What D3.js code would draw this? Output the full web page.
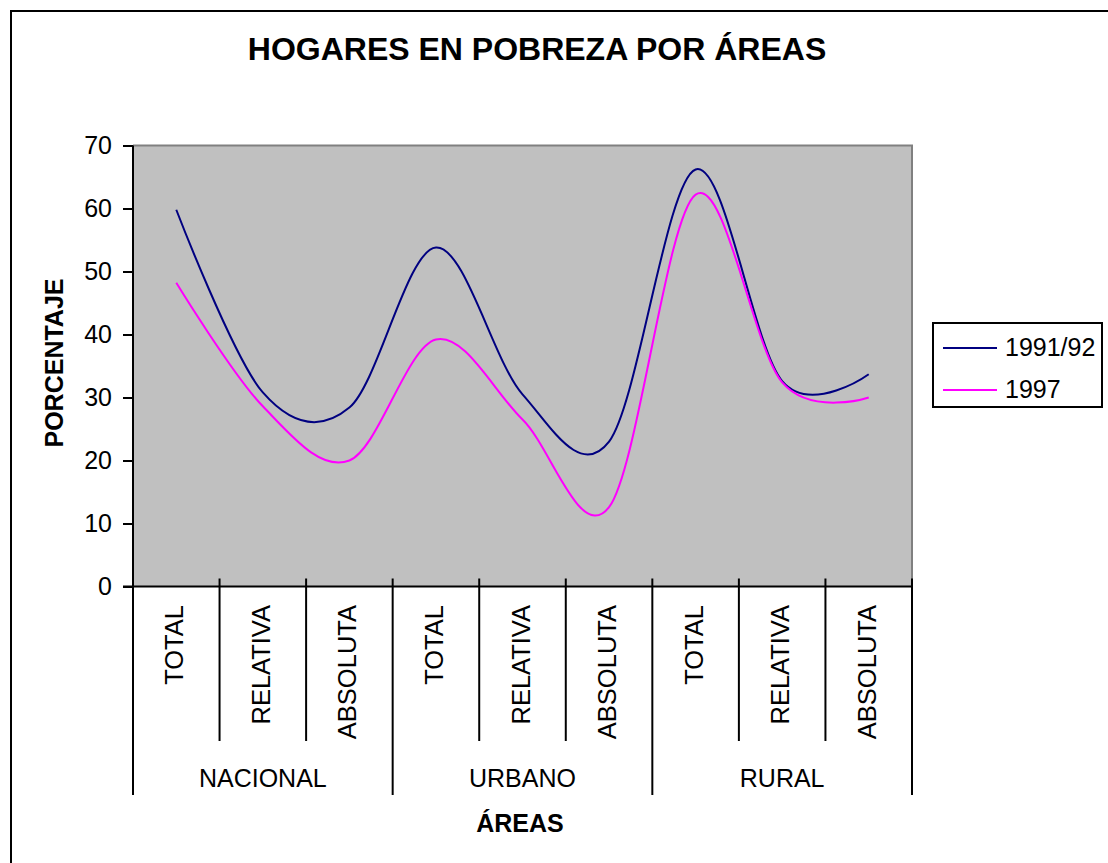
<!DOCTYPE html>
<html>
<head>
<meta charset="utf-8">
<script src="https://cdn.jsdelivr.net/npm/d3@7"></script>
<style>
  html, body { margin: 0; padding: 0; background: #fff; }
  svg { display: block; }
  text { font-family: "Liberation Sans", Arial, "DejaVu Sans", sans-serif; fill: #000; }
</style>
</head>
<body>
<svg id="chart" width="1108" height="863"></svg>
<script>
// ---- data ----
const categories = ["TOTAL", "RELATIVA", "ABSOLUTA", "TOTAL", "RELATIVA", "ABSOLUTA", "TOTAL", "RELATIVA", "ABSOLUTA"];
const groups = ["NACIONAL", "URBANO", "RURAL"];
const series1991 = [59.8, 30.8, 28.4, 53.8, 30.5, 23.0, 66.2, 32.6, 33.7];
const series1997 = [48.2, 28.6, 20.0, 39.2, 26.5, 12.6, 62.2, 32.4, 30.0];
const seriesNames = ["1991/92", "1997"];
const yTicks = [0, 10, 20, 30, 40, 50, 60, 70];
const titleText = "HOGARES EN POBREZA POR ÁREAS";
const yTitle = "PORCENTAJE";
const xTitle = "ÁREAS";

// ---- layout ----
const svg = d3.select("#chart");
const L = 133, R = 912, T = 145.5, B = 586.5;
const colors = ["#000080", "#FF00FF"];

// outer chart border (extends past the window on right/bottom)
svg.append("rect").attr("x", 11).attr("y", 11).attr("width", 1200).attr("height", 1000)
  .attr("fill", "none").attr("stroke", "#000").attr("stroke-width", 2);

const idx = categories.map((d, i) => i);
const x = d3.scaleBand().domain(idx).range([L, R]).paddingInner(0).paddingOuter(0);
const xc = i => x(i) + x.bandwidth() / 2;
const y = d3.scaleLinear().domain([0, 70]).range([B, T]);

// plot area
svg.append("rect").attr("x", L).attr("y", T).attr("width", R - L).attr("height", B - T)
  .attr("fill", "#C0C0C0");
svg.append("path").attr("d", `M${L},${T}H${R}V${B}`).attr("fill", "none")
  .attr("stroke", "#808080").attr("stroke-width", 2);

// title
svg.append("text").attr("x", 537).attr("y", 60).attr("text-anchor", "middle")
  .style("font-size", "32px").style("font-weight", "bold").text(titleText);

// y axis
const yAxis = d3.axisLeft(y).tickValues(yTicks).tickSize(10).tickPadding(11).tickSizeOuter(0);
const gy = svg.append("g").attr("transform", `translate(${L},0)`).call(yAxis);
gy.select(".domain").remove();
gy.selectAll(".tick line").attr("stroke", "#000").attr("stroke-width", 2);
gy.selectAll(".tick text").style("font-size", "25px")
  .style("font-family", '"Liberation Sans", Arial, sans-serif').attr("fill", "#000");

// y title
svg.append("text").attr("transform", "translate(63,363) rotate(-90)").attr("text-anchor", "middle")
  .style("font-size", "25px").style("font-weight", "bold").text(yTitle);

// lines
const line = d3.line().x((d, i) => xc(i)).y(d => y(d)).curve(d3.curveCatmullRom.alpha(0));
[series1991, series1997].forEach((s, k) => {
  svg.append("path").datum(s).attr("d", line).attr("fill", "none")
    .attr("stroke", colors[k]).attr("stroke-width", 2).attr("stroke-linejoin", "round");
});

// axes lines
svg.append("line").attr("x1", L).attr("x2", L).attr("y1", T).attr("y2", 795)
  .attr("stroke", "#000").attr("stroke-width", 2);
svg.append("line").attr("x1", 123).attr("x2", R).attr("y1", B).attr("y2", B)
  .attr("stroke", "#000").attr("stroke-width", 2);

// category boundary ticks
const bounds = d3.range(1, categories.length + 1);
svg.selectAll(".ctick").data(bounds).join("line").attr("class", "ctick")
  .attr("x1", d => d < categories.length ? x(d) : R)
  .attr("x2", d => d < categories.length ? x(d) : R)
  .attr("y1", B - 8)
  .attr("y2", d => d % 3 === 0 ? 795 : 741)
  .attr("stroke", "#000").attr("stroke-width", 2);

// category labels
svg.selectAll(".clabel").data(categories).join("text").attr("class", "clabel")
  .attr("transform", (d, i) => `translate(${xc(i) + 7},605) rotate(-90)`)
  .attr("text-anchor", "end").style("font-size", "25.5px").text(d => d);

// group labels
svg.selectAll(".glabel").data(groups).join("text").attr("class", "glabel")
  .attr("x", (d, g) => (x(g * 3) + (g * 3 + 3 < categories.length ? x(g * 3 + 3) : R)) / 2)
  .attr("y", 787).attr("text-anchor", "middle").style("font-size", "25px").text(d => d);

// x title
svg.append("text").attr("x", 520).attr("y", 832).attr("text-anchor", "middle")
  .style("font-size", "25px").style("font-weight", "bold").text(xTitle);

// legend
const lg = svg.append("g");
lg.append("rect").attr("x", 933).attr("y", 323).attr("width", 169).attr("height", 84)
  .attr("fill", "#fff").attr("stroke", "#000").attr("stroke-width", 2);
seriesNames.forEach((n, k) => {
  const ly = 348 + k * 42;
  lg.append("line").attr("x1", 943).attr("x2", 997).attr("y1", ly).attr("y2", ly)
    .attr("stroke", colors[k]).attr("stroke-width", 2);
  lg.append("text").attr("x", 1005).attr("y", ly + 8)
    .style("font-size", "25px").text(n);
});
</script>
</body>
</html>
